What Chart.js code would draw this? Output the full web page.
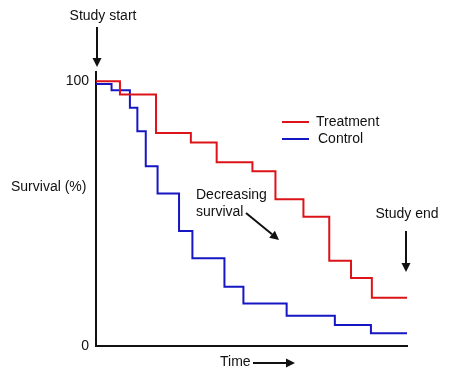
<!DOCTYPE html>
<html>
<head>
<meta charset="utf-8">
<script src="https://cdn.jsdelivr.net/npm/chart.js@4/dist/chart.umd.min.js"></script>
<style>
	html, body { margin: 0; padding: 0; background: #fff; }
	#wrap { width: 474px; height: 374px; }
</style>
</head>
<body>
<div id="wrap"><canvas id="km" width="474" height="374"></canvas></div>
<script>
// time of each drop (arbitrary units, 0 = study start, 100 = study end) and survival after it
var treatmentTimes = [0, 7.7, 19.3, 30.5, 38.8, 50.3, 57.7, 66.7, 75.0, 82.0, 88.7, 100];
var treatmentSurvival = [100, 95.0, 80.5, 76.9, 69.4, 66.0, 55.4, 48.8, 32.2, 25.7, 18.2, 18.2];
var controlTimes = [0, 5.0, 10.9, 13.3, 16.0, 19.8, 26.7, 31.0, 41.3, 47.4, 61.3, 76.8, 88.4, 100];
var controlSurvival = [99, 96.6, 90.0, 81.1, 67.9, 57.6, 43.4, 33.1, 22.4, 16.1, 11.4, 7.9, 4.8, 4.8];
var seriesNames = ["Treatment", "Control"];
var yTickValues = [0, 100];
var xAxisLabel = "Time";
var yAxisLabel = "Survival (%)";
var startLabel = "Study start";
var endLabel = "Study end";
var trendLabel = ["Decreasing", "survival"];

var redColor = '#dc1419';
var blueColor = '#1616c4';
var fontName = '"Liberation Sans", Arial, sans-serif';

function toPoints(xs, ys){
	var pts = [];
	for(var i = 0; i < xs.length; i++){
		pts.push({x: xs[i], y: ys[i]});
	}
	return pts;
}

function drawArrow(ctx, x1, y1, x2, y2){
	var ang = Math.atan2(y2 - y1, x2 - x1);
	var headLen = 9, headW = 4.5;
	var bx = x2 - headLen * Math.cos(ang), by = y2 - headLen * Math.sin(ang);
	ctx.beginPath();
	ctx.moveTo(x1, y1);
	ctx.lineTo(bx, by);
	ctx.stroke();
	ctx.beginPath();
	ctx.moveTo(x2, y2);
	ctx.lineTo(bx + headW * Math.sin(ang), by - headW * Math.cos(ang));
	ctx.lineTo(bx - headW * Math.sin(ang), by + headW * Math.cos(ang));
	ctx.closePath();
	ctx.fill();
}

// labels, arrows and the little legend, all placed like in the figure
var annotations = {
	id: 'annotations',
	afterDraw: function(chart){
		var ctx = chart.ctx;
		var area = chart.chartArea;
		var xs = chart.scales.x;
		ctx.save();
		ctx.fillStyle = '#111';
		ctx.strokeStyle = '#111';
		ctx.lineWidth = 2;
		ctx.font = '14px ' + fontName;
		ctx.textBaseline = 'middle';

		ctx.textAlign = 'center';
		ctx.fillText(startLabel, 103, 16);
		drawArrow(ctx, xs.getPixelForValue(0) + 1, 27, xs.getPixelForValue(0) + 1, 67);

		ctx.fillText(endLabel, 407, 214);
		drawArrow(ctx, 406, 231, 406, 272);

		ctx.textAlign = 'left';
		ctx.fillText(yAxisLabel, 11, 187);
		ctx.fillText(trendLabel[0], 196, 195);
		ctx.fillText(trendLabel[1], 196, 212);
		drawArrow(ctx, 246, 213, 279, 240);

		ctx.fillText(xAxisLabel, 220, 362);
		drawArrow(ctx, 253, 363, 295, 363);

		// legend
		var legendY = [122, 139];
		chart.data.datasets.forEach(function(ds, i){
			ctx.strokeStyle = ds.borderColor;
			ctx.beginPath();
			ctx.moveTo(282, legendY[i]);
			ctx.lineTo(309, legendY[i]);
			ctx.stroke();
			ctx.fillStyle = '#111';
			ctx.fillText(ds.label, i == 0 ? 316 : 318, legendY[i]);
		});
		ctx.restore();
	}
};

var chartCtx = document.getElementById('km');
var kmChart = new Chart(chartCtx, {
	type: 'line',
	data: {
		datasets: [
			{
				label: seriesNames[0],
				data: toPoints(treatmentTimes, treatmentSurvival),
				borderColor: redColor,
				borderWidth: 2,
				stepped: true,
				fill: false,
				pointRadius: 0
			},
			{
				label: seriesNames[1],
				data: toPoints(controlTimes, controlSurvival),
				borderColor: blueColor,
				borderWidth: 2,
				stepped: true,
				fill: false,
				pointRadius: 0
			}
		]
	},
	options: {
		responsive: false,
		animation: false,
		devicePixelRatio: 1,
		layout: {
			padding: {left: 0, top: 72, right: 67, bottom: 28}
		},
		plugins: {
			legend: {display: false},
			tooltip: {enabled: false}
		},
		scales: {
			x: {
				type: 'linear',
				min: 0,
				max: 100,
				grid: {display: false, drawTicks: false},
				ticks: {display: false},
				border: {display: true, color: '#111', width: 2},
				afterFit: function(scale){ scale.height = 0; }
			},
			y: {
				min: 0,
				max: 103.5,
				grid: {display: false, drawTicks: false},
				border: {display: true, color: '#111', width: 2},
				afterBuildTicks: function(scale){
					scale.ticks = yTickValues.map(function(v){ return {value: v}; });
				},
				ticks: {
					color: '#111',
					padding: 7,
					font: {family: fontName, size: 14}
				},
				afterFit: function(scale){ scale.width = 96; }
			}
		}
	},
	plugins: [annotations]
});
</script>
</body>
</html>
